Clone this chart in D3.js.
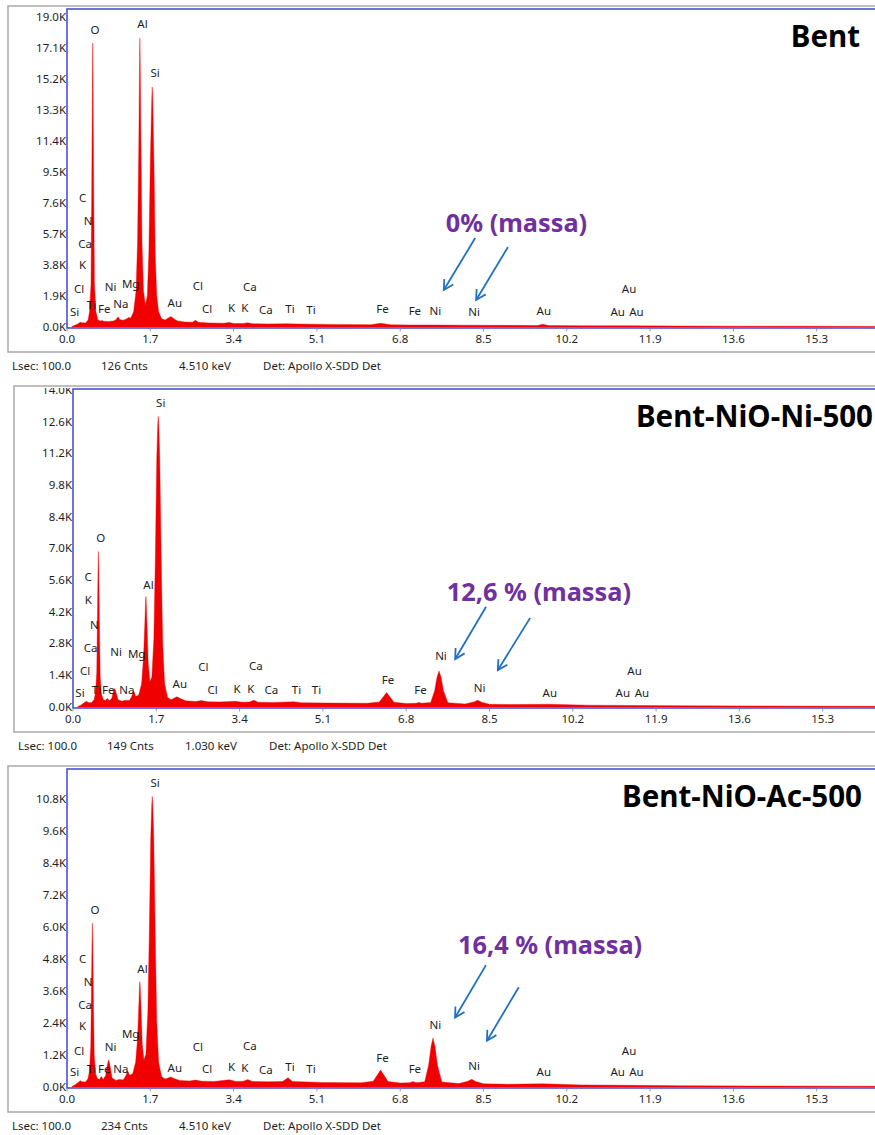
<!DOCTYPE html>
<html>
<head>
<meta charset="utf-8">
<script src="https://cdn.jsdelivr.net/npm/d3@7"></script>
<style>
  body { margin: 0; background: #fff; }
  svg { display: block; }
  text { font-family: "Noto Sans", sans-serif; }
</style>
</head>
<body>
<svg id="chart" width="875" height="1135"></svg>
<script>
// ---- Energy axis (keV) shared by the three EDS spectra ----
const energyTicks = [0.0, 1.7, 3.4, 5.1, 6.8, 8.5, 10.2, 11.9, 13.6, 15.3];

// ---- Spectrum 1: Bent  [keV, counts] ----
const bentSpectrum = [
  [0.10,0],[0.16,70],[0.22,160],[0.27,260],[0.31,230],[0.38,220],[0.43,400],[0.46,900],
  [0.49,2600],[0.505,8500],[0.518,15000],[0.525,17400],[0.532,15000],[0.545,8500],[0.56,2600],
  [0.59,900],[0.63,420],[0.68,330],[0.71,370],[0.75,320],[0.85,310],[0.95,340],[1.00,420],
  [1.04,600],[1.08,420],[1.15,390],[1.22,480],[1.26,560],[1.30,520],[1.36,900],[1.41,2200],
  [1.44,5200],[1.465,11000],[1.48,16000],[1.487,17700],[1.495,16000],[1.51,11000],[1.53,5200],
  [1.56,2200],[1.60,1300],[1.64,1900],[1.67,4500],[1.70,10000],[1.73,14000],[1.74,14700],
  [1.75,14000],[1.775,10000],[1.80,4500],[1.83,1900],[1.87,900],[1.93,480],[2.00,400],
  [2.06,500],[2.12,620],[2.18,480],[2.26,340],[2.40,280],[2.56,260],[2.62,380],[2.68,260],
  [2.90,220],[3.20,200],[3.31,250],[3.40,190],[3.60,180],[3.69,230],[3.78,175],[4.10,160],
  [4.51,170],[4.70,150],[5.40,130],[6.20,115],[6.40,200],[6.60,105],[7.00,95],[7.47,90],
  [8.20,80],[9.00,70],[9.60,62],[9.71,140],[9.82,58],[10.50,50],[11.44,45],[12.50,30],
  [13.50,20],[15.00,12],[16.50,6],[17.50,4]
];
const bentCountTicks = [0, 1900, 3800, 5700, 7600, 9500, 11400, 13300, 15200, 17100, 19000];
const bentCountMax = 19490;
const bentLabels = [
  ["O",0.57,18200],["Al",1.54,18570],["Si",1.80,15580],["C",0.32,7870],["N",0.43,6480],
  ["Ca",0.37,5050],["K",0.32,3780],["Cl",0.245,2280],["Si",0.157,910],["Ti",0.50,1320],
  ["Fe",0.76,1060],["Ni",0.89,2440],["Na",1.10,1360],["Mg",1.30,2600],["Au",2.20,1420],
  ["Cl",2.67,2500],["Cl",2.86,1060],["K",3.36,1120],["K",3.63,1120],["Ca",3.73,2400],
  ["Ca",4.06,1010],["Ti",4.55,1060],["Ti",4.98,1010],["Fe",6.44,1060],["Fe",7.10,950],
  ["Ni",7.52,950],["Ni",8.31,910],["Au",9.73,950],["Au",11.47,2280],["Au",11.24,910],
  ["Au",11.62,910]
];
const bentArrows = [[8.33,5430,7.69,2240],[9.00,4880,8.35,1630]];
const bentNote = ["0% (massa)", 7.73, 6350];
const bentFooter = ["Lsec: 100.0", "126 Cnts", "4.510 keV", "Det: Apollo X-SDD Det"];

// ---- Spectrum 2: Bent-NiO-Ni-500 ----
const ni500Spectrum = [
  [0.10,0],[0.16,60],[0.22,150],[0.27,230],[0.31,180],[0.38,170],[0.43,300],[0.46,600],
  [0.485,1500],[0.50,4200],[0.51,6000],[0.518,6850],[0.526,6000],[0.54,3600],[0.555,1300],
  [0.58,550],[0.62,300],[0.66,260],[0.70,360],[0.74,250],[0.79,350],[0.83,700],[0.85,800],
  [0.87,680],[0.92,300],[1.00,230],[1.06,280],[1.15,260],[1.20,450],[1.24,680],[1.28,450],
  [1.34,500],[1.40,1000],[1.44,2200],[1.465,3600],[1.48,4600],[1.487,4870],[1.495,4600],
  [1.51,3600],[1.535,1900],[1.57,1100],[1.61,1300],[1.65,3000],[1.68,6500],[1.71,11000],
  [1.73,12500],[1.74,12830],[1.75,12500],[1.77,11000],[1.80,6500],[1.83,2800],[1.87,1000],
  [1.93,400],[2.00,300],[2.06,370],[2.12,430],[2.18,360],[2.30,250],[2.50,220],[2.62,260],
  [2.75,210],[3.00,200],[3.31,230],[3.45,190],[3.60,200],[3.69,280],[3.78,190],[4.10,180],
  [4.51,210],[4.65,170],[5.20,150],[6.00,140],[6.25,200],[6.33,420],[6.40,620],[6.47,420],
  [6.55,190],[6.80,130],[7.00,140],[7.06,175],[7.12,140],[7.30,180],[7.38,700],[7.43,1300],
  [7.47,1570],[7.51,1300],[7.56,700],[7.65,170],[8.00,110],[8.18,200],[8.26,280],[8.34,190],
  [8.50,100],[9.00,85],[9.71,100],[10.50,60],[11.50,45],[12.50,32],[14.00,20],[16.00,10],
  [17.50,6]
];
const ni500CountTicks = [0, 1400, 2800, 4200, 5600, 7000, 8400, 9800, 11200, 12600, 14000];
const ni500CountMax = 14040;
const ni500Labels = [
  ["Si",1.79,13420],["O",0.565,7450],["C",0.31,5720],["K",0.31,4730],["Al",1.54,5360],
  ["N",0.435,3610],["Ca",0.36,2570],["Ni",0.88,2420],["Mg",1.30,2320],["Cl",0.245,1570],
  ["Si",0.143,610],["Ti",0.48,740],["Fe",0.72,740],["Na",1.10,740],["Au",2.18,980],
  ["Cl",2.66,1750],["Cl",2.85,740],["K",3.35,790],["K",3.63,790],["Ca",3.73,1800],
  ["Ca",4.05,710],["Ti",4.56,710],["Ti",4.97,710],["Fe",6.43,1190],["Fe",7.09,710],
  ["Ni",7.51,2230],["Ni",8.30,830],["Au",9.73,610],["Au",11.46,1570],["Au",11.22,610],
  ["Au",11.61,610]
];
const ni500Arrows = [[8.43,4410,7.80,2100],[9.33,3920,8.67,1610]];
const ni500Note = ["12,6 % (massa)", 7.63, 5040];
const ni500Footer = ["Lsec: 100.0", "149 Cnts", "1.030 keV", "Det: Apollo X-SDD Det"];

// ---- Spectrum 3: Bent-NiO-Ac-500 ----
const ac500Spectrum = [
  [0.10,0],[0.16,60],[0.22,140],[0.27,220],[0.31,180],[0.38,170],[0.43,300],[0.46,600],
  [0.485,1500],[0.50,3800],[0.51,5400],[0.518,6130],[0.526,5400],[0.54,3200],[0.555,1200],
  [0.58,500],[0.62,300],[0.66,260],[0.70,380],[0.74,260],[0.79,420],[0.83,880],[0.85,1000],
  [0.87,860],[0.92,320],[1.00,230],[1.06,260],[1.15,250],[1.20,400],[1.24,580],[1.28,420],
  [1.34,480],[1.40,900],[1.44,1800],[1.465,3000],[1.48,3750],[1.487,3940],[1.495,3750],
  [1.51,3000],[1.535,1600],[1.57,1000],[1.61,1200],[1.65,2800],[1.68,5800],[1.71,9400],
  [1.73,10600],[1.74,10900],[1.75,10600],[1.77,9400],[1.80,5800],[1.83,2500],[1.87,900],
  [1.93,380],[2.00,280],[2.06,320],[2.12,360],[2.18,300],[2.30,230],[2.50,210],[2.62,240],
  [2.75,200],[3.00,190],[3.31,250],[3.45,190],[3.60,200],[3.69,260],[3.78,190],[4.10,180],
  [4.40,190],[4.51,330],[4.60,190],[4.93,170],[5.20,150],[6.00,140],[6.25,200],[6.33,420],
  [6.40,620],[6.47,420],[6.55,190],[6.80,130],[7.00,140],[7.06,190],[7.12,140],[7.30,180],
  [7.38,800],[7.43,1500],[7.47,1820],[7.51,1500],[7.56,800],[7.65,170],[8.00,110],[8.18,200],
  [8.26,270],[8.34,190],[8.50,100],[9.00,85],[9.71,100],[10.50,60],[11.50,45],[12.50,32],
  [14.00,20],[16.00,10],[17.50,6]
];
const ac500CountTicks = [0, 1200, 2400, 3600, 4800, 6000, 7200, 8400, 9600, 10800];
const ac500CountMax = 11930;
const ac500Labels = [
  ["Si",1.80,11400],["O",0.57,6650],["C",0.32,4780],["Al",1.54,4430],["N",0.43,3930],
  ["Ca",0.37,3060],["K",0.32,2260],["Mg",1.30,1990],["Ni",0.89,1480],["Cl",0.245,1340],
  ["Si",0.157,540],["Ti",0.50,650],["Fe",0.76,650],["Na",1.10,650],["Au",2.20,690],
  ["Cl",2.67,1500],["Cl",2.86,650],["K",3.36,750],["K",3.63,690],["Ca",3.73,1530],
  ["Ca",4.06,620],["Ti",4.55,750],["Ti",4.98,660],["Fe",6.44,1090],["Fe",7.10,650],
  ["Ni",7.52,2300],["Ni",8.31,790],["Au",9.73,540],["Au",11.47,1350],["Au",11.24,540],
  ["Au",11.62,540]
];
const ac500Arrows = [[8.55,4560,7.92,2590],[9.22,3730,8.57,1720]];
const ac500Note = ["16,4 % (massa)", 7.98, 5310];
const ac500Footer = ["Lsec: 100.0", "234 Cnts", "4.510 keV", "Det: Apollo X-SDD Det"];

// ---- Panel layout ----
const W = 875, H = 1135;
const keVMax = 17.5, pxPerKeV = 49.0;
const panels = [
  { title: "Bent", titleRight: 860, spectrum: bentSpectrum, ticks: bentCountTicks, yMax: bentCountMax,
    labels: bentLabels, arrows: bentArrows, note: bentNote, footer: bentFooter, dx: 0, dy: 0 },
  { title: "Bent-NiO-Ni-500", titleRight: 873, spectrum: ni500Spectrum, ticks: ni500CountTicks, yMax: ni500CountMax,
    labels: ni500Labels, arrows: ni500Arrows, note: ni500Note, footer: ni500Footer, dx: 6, dy: 380 },
  { title: "Bent-NiO-Ac-500", titleRight: 862, spectrum: ac500Spectrum, ticks: ac500CountTicks, yMax: ac500CountMax,
    labels: ac500Labels, arrows: ac500Arrows, note: ac500Note, footer: ac500Footer, dx: 0, dy: 760 }
];

const svg = d3.select("#chart");
const defs = svg.append("defs");
const fmtK = v => (v / 1000).toFixed(1) + "K";

panels.forEach((p, i) => {
  const frameL = 8 + p.dx, frameT = 6 + p.dy, frameB = 352 + p.dy;
  const plotL = 67 + p.dx, plotT = 9 + p.dy, plotB = 328 + p.dy;

  const x = d3.scaleLinear().domain([0, keVMax]).range([plotL, plotL + keVMax * pxPerKeV]);
  const y = d3.scaleLinear().domain([0, p.yMax]).range([plotB - 1.5, plotT]);

  const g = svg.append("g");

  // outer window frame
  g.append("rect").attr("x", frameL).attr("y", frameT)
    .attr("width", W + 20 - frameL).attr("height", frameB - frameT)
    .attr("fill", "#fff").attr("stroke", "#a9a9a9").attr("stroke-width", 1.5);

  // clip regions
  defs.append("clipPath").attr("id", "plot" + i).append("rect")
    .attr("x", plotL).attr("y", plotT).attr("width", W - plotL).attr("height", plotB - plotT);
  defs.append("clipPath").attr("id", "yl" + i).append("rect")
    .attr("x", 0).attr("y", plotT - 1).attr("width", plotL).attr("height", plotB - plotT + 12);

  // spectrum
  const area = d3.area().x(d => x(d[0])).y0(y(0) + 0.5).y1(d => y(d[1])).curve(d3.curveLinear);
  g.append("path").datum(p.spectrum).attr("clip-path", `url(#plot${i})`)
    .attr("d", area).attr("fill", "#f00000").attr("stroke", "#f00000").attr("stroke-width", 0.4);

  // plot border
  g.append("rect").attr("x", plotL).attr("y", plotT)
    .attr("width", W + 20 - plotL).attr("height", plotB - plotT)
    .attr("fill", "none").attr("stroke", "#4046d2").attr("stroke-width", 1.5);

  // count axis labels
  g.append("g").attr("clip-path", `url(#yl${i})`).selectAll("text").data(p.ticks).join("text")
    .attr("x", plotL - 1).attr("y", d => y(d)).attr("dy", "0.35em")
    .attr("text-anchor", "end").attr("font-size", 11.5).attr("fill", "#1e1e1e").text(fmtK);

  // energy axis
  const xa = g.append("g");
  xa.selectAll("line").data(energyTicks).join("line")
    .attr("x1", d => x(d)).attr("x2", d => x(d)).attr("y1", plotB + 1).attr("y2", plotB + 3.5)
    .attr("stroke", "#9a9a9a").attr("stroke-width", 1);
  xa.selectAll("text").data(energyTicks).join("text")
    .attr("x", d => x(d)).attr("y", plotB + 11).attr("dy", "0.35em")
    .attr("text-anchor", "middle").attr("font-size", 11.5).attr("fill", "#1e1e1e")
    .text(d => d.toFixed(1));

  // element identification labels
  g.append("g").selectAll("text").data(p.labels).join("text")
    .attr("x", d => x(d[1])).attr("y", d => y(d[2])).attr("dy", "0.35em")
    .attr("text-anchor", "middle").attr("font-size", 11.5).attr("fill", "#1e1e1e")
    .text(d => d[0]);

  // sample title
  g.append("text").attr("x", p.titleRight).attr("y", plotT + 28).attr("dy", "0.35em")
    .attr("text-anchor", "end").attr("font-family", "Lato, sans-serif").attr("font-weight", 700)
    .attr("font-size", 29.5).attr("fill", "#000").text(p.title);

  // Ni mass fraction note
  g.append("text").attr("x", x(p.note[1])).attr("y", y(p.note[2])).attr("dy", "0.35em")
    .attr("font-family", "Lato, sans-serif").attr("font-weight", 700)
    .attr("font-size", 25.3).attr("fill", "#7030a0").text(p.note[0]);

  // arrows toward the Ni lines
  p.arrows.forEach(a => {
    const x1 = x(a[0]), y1 = y(a[1]), x2 = x(a[2]), y2 = y(a[3]);
    const ang = Math.atan2(y2 - y1, x2 - x1);
    const len = 11, spread = 0.5;
    const pts = [
      [x2 - len * Math.cos(ang - spread), y2 - len * Math.sin(ang - spread)],
      [x2, y2],
      [x2 - len * Math.cos(ang + spread), y2 - len * Math.sin(ang + spread)]
    ];
    g.append("line").attr("x1", x1).attr("y1", y1).attr("x2", x2).attr("y2", y2)
      .attr("stroke", "#2271c0").attr("stroke-width", 1.8);
    g.append("path").attr("d", d3.line()(pts)).attr("fill", "none")
      .attr("stroke", "#2271c0").attr("stroke-width", 1.8).attr("stroke-linejoin", "miter");
  });

  // acquisition footer
  const footX = [4, 93, 171, 255];
  g.append("g").selectAll("text").data(p.footer).join("text")
    .attr("x", (d, k) => frameL + footX[k]).attr("y", frameB + 14).attr("dy", "0.35em")
    .attr("font-size", 11.5).attr("fill", "#1e1e1e").text(d => d);
});
</script>
</body>
</html>
